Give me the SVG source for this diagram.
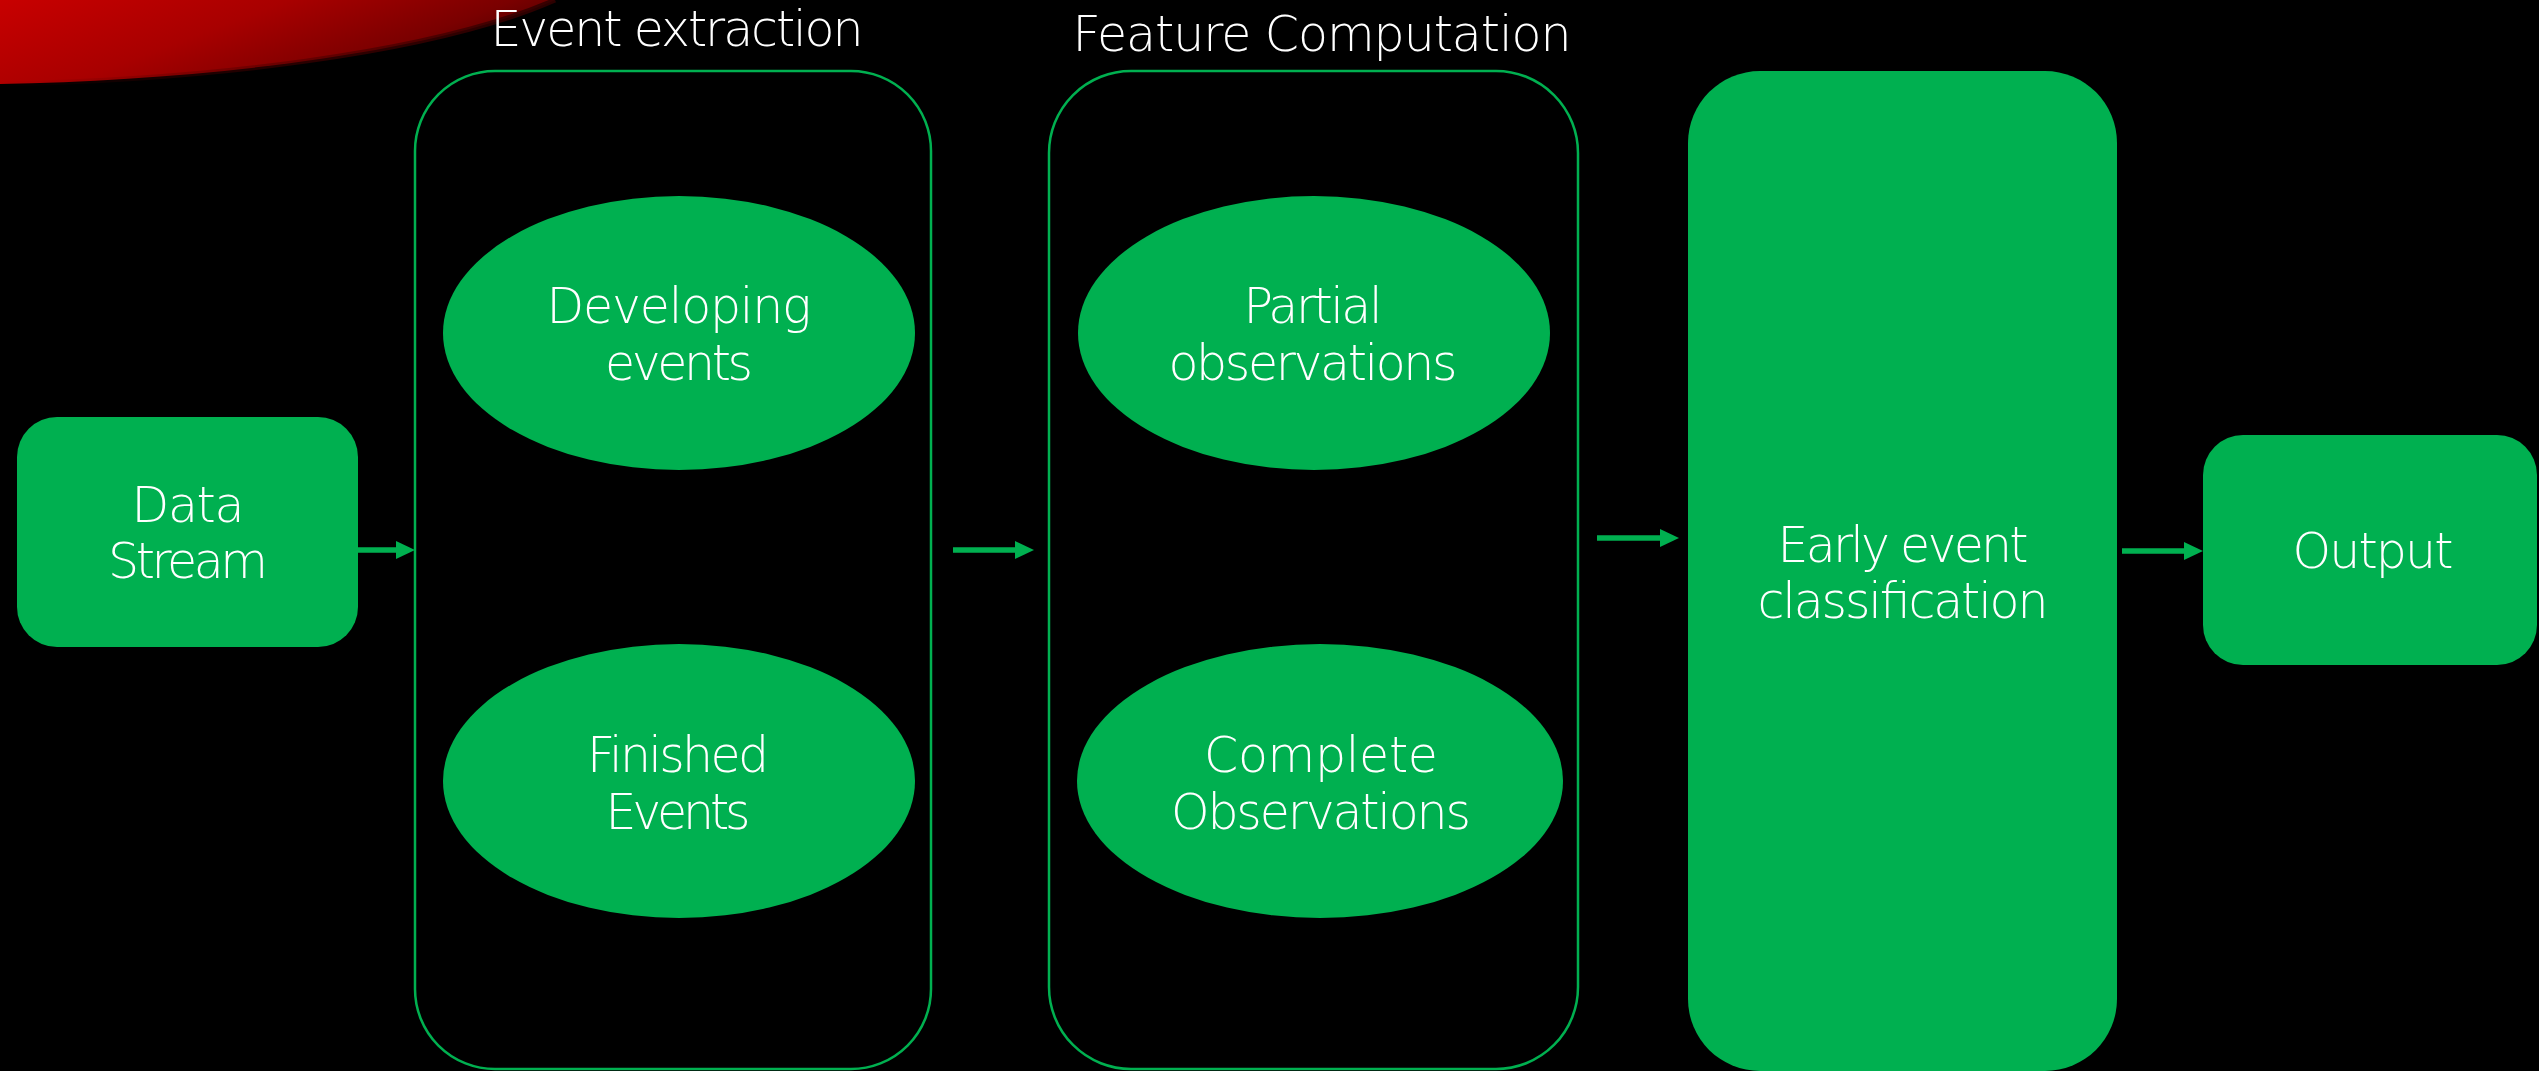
<svg xmlns="http://www.w3.org/2000/svg" width="2539" height="1071" viewBox="0 0 2539 1071">
  <defs>
    <linearGradient id="swooshFill" x1="0" y1="0" x2="1" y2="0.4">
      <stop offset="0" stop-color="#c80000"/>
      <stop offset="0.45" stop-color="#a80000"/>
      <stop offset="0.8" stop-color="#7a0000"/>
      <stop offset="1" stop-color="#4a0000"/>
    </linearGradient>
    <linearGradient id="swooshEdge" x1="0" y1="0" x2="1" y2="0">
      <stop offset="0" stop-color="#5a0000" stop-opacity="0"/>
      <stop offset="0.6" stop-color="#4a0000" stop-opacity="0.6"/>
      <stop offset="1" stop-color="#300000" stop-opacity="0.9"/>
    </linearGradient>
    <marker id="head" viewBox="0 0 19 18" refX="9" refY="9" markerWidth="19" markerHeight="18" markerUnits="userSpaceOnUse" orient="auto">
      <path d="M0,0 L19,9 L0,18 Z" fill="#00b050"/>
    </marker>
  </defs>
  <style>
    .lbl { font-family: "DejaVu Sans", "Liberation Sans", sans-serif; font-weight: 200; font-size: 49px; fill: #ffffff; text-anchor: middle; }
    .solid { fill: #00b050; }
    .frame { fill: none; stroke: #00b050; stroke-width: 2.5; }
    .link { stroke: #00b050; stroke-width: 5.5; fill: none; marker-end: url(#head); }
  </style>

  <!-- background -->
  <rect x="0" y="0" width="2539" height="1071" fill="#000000"/>

  <!-- red corner swoosh -->
  <path d="M0,0 L555,0 C430,55 200,80 0,84 Z" fill="url(#swooshFill)"/>
  <path d="M555,0 C430,55 200,80 0,84" fill="none" stroke="url(#swooshEdge)" stroke-width="5"/>

  <!-- stage titles -->
  <text class="lbl" x="677" y="46" textLength="373">Event extraction</text>
  <text class="lbl" x="1322" y="51" textLength="499">Feature Computation</text>

  <g id="data-stream">
    <rect class="solid" x="17" y="417" width="341" height="230" rx="40"/>
    <text class="lbl" x="188" y="522" textLength="113">Data</text>
    <text class="lbl" x="188" y="578" textLength="160">Stream</text>
  </g>

  <g id="event-extraction">
    <rect class="frame" x="415" y="71" width="516" height="998" rx="80"/>
  </g>

  <g id="developing-events">
    <ellipse class="solid" cx="679" cy="333" rx="236" ry="137"/>
    <text class="lbl" x="679" y="323" textLength="265">Developing</text>
    <text class="lbl" x="679" y="380" textLength="148">events</text>
  </g>

  <g id="finished-events">
    <ellipse class="solid" cx="679" cy="781" rx="236" ry="137"/>
    <text class="lbl" x="678" y="772" textLength="182">Finished</text>
    <text class="lbl" x="678" y="829" textLength="145">Events</text>
  </g>

  <g id="feature-computation">
    <rect class="frame" x="1049" y="71" width="529" height="998" rx="82"/>
  </g>

  <g id="partial-observations">
    <ellipse class="solid" cx="1314" cy="333" rx="236" ry="137"/>
    <text class="lbl" x="1313" y="323" textLength="139">Partial</text>
    <text class="lbl" x="1313" y="380" textLength="289">observations</text>
  </g>

  <g id="complete-observations">
    <ellipse class="solid" cx="1320" cy="781" rx="243" ry="137"/>
    <text class="lbl" x="1321" y="772" textLength="234">Complete</text>
    <text class="lbl" x="1321" y="829" textLength="300">Observations</text>
  </g>

  <g id="early-classification">
    <rect class="solid" x="1688" y="71" width="429" height="1000" rx="72"/>
    <text class="lbl" x="1903" y="562" textLength="251">Early event</text>
    <text class="lbl" x="1903" y="618" textLength="291">classification</text>
  </g>

  <g id="output">
    <rect class="solid" x="2203" y="435" width="334" height="230" rx="40"/>
    <text class="lbl" x="2373" y="568" textLength="161">Output</text>
  </g>

  <g id="connectors">
    <line class="link" x1="358" y1="550" x2="405" y2="550"/>
    <line class="link" x1="953" y1="550" x2="1024" y2="550"/>
    <line class="link" x1="1597" y1="538" x2="1669" y2="538"/>
    <line class="link" x1="2122" y1="551" x2="2193" y2="551"/>
  </g>
</svg>
